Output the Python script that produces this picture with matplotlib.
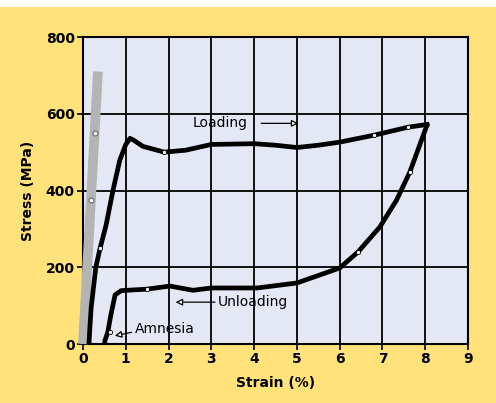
import matplotlib
matplotlib.use("Agg")
import matplotlib.pyplot as plt
from matplotlib.patches import Rectangle

# gray elastic line
elastic_strain = [0.0, 0.35]
elastic_stress = [0, 710]
elastic_mk_strain = [0.19, 0.28]
elastic_mk_stress = [375, 550]

# loading branch
load_strain = [0.14, 0.16, 0.19, 0.30, 0.40, 0.54, 0.70, 0.86, 1.00, 1.10, 1.20,
               1.40, 1.90, 2.40, 3.00, 4.00, 4.50, 5.00, 5.50, 6.00, 6.80, 7.60, 8.04]
load_stress = [0, 42, 94, 200, 250, 310, 400, 479, 520, 536, 530,
               515, 500, 505, 520, 522, 518, 512, 518, 526, 544, 565, 572]
load_mk_strain = [0.40, 1.90, 6.80, 7.60]
load_mk_stress = [250, 500, 544, 565]

# unloading branch
unload_strain = [8.04, 7.64, 7.33, 6.94, 6.43, 6.00, 5.00, 4.07, 3.00, 2.57, 2.03,
                 1.50, 1.03, 0.89, 0.75, 0.65, 0.58, 0.51, 0.51]
unload_stress = [570, 448, 375, 305, 240, 198, 159, 146, 146, 140, 151,
                 143, 140, 139, 128, 75, 31, 8, 0]
unload_mk_strain = [7.64, 6.43, 1.50, 0.62]
unload_mk_stress = [448, 240, 143, 31]

x_ticks = list(range(0, 10))
y_ticks = [0, 200, 400, 600, 800]

YELLOW = "#FFE37A"
FACE = "#E4E8F4"

fig = plt.figure(figsize=(4.96, 4.03), dpi=100, facecolor=YELLOW)
fig.patches.append(Rectangle((0, 1 - 7 / 403), 1, 7 / 403, transform=fig.transFigure,
                             facecolor="white", edgecolor="none", zorder=0))
ax = fig.add_axes([83 / 496, 59 / 403, 385 / 496, 307 / 403])
ax.set_facecolor(FACE)

ax.plot(elastic_strain, elastic_stress, color="#B4B4B4", lw=7, solid_capstyle="butt",
        zorder=3, clip_on=False)
ax.plot(elastic_mk_strain, elastic_mk_stress, "o", ms=3.5, mfc="white", mec="#666666",
        mew=0.8, zorder=4)
ax.plot(load_strain, load_stress, color="black", lw=3.4, zorder=5)
ax.plot(unload_strain, unload_stress, color="black", lw=3.4, zorder=5)
ax.plot(load_mk_strain + unload_mk_strain, load_mk_stress + unload_mk_stress, "o", ms=3,
        mfc="white", mec="black", mew=0.6, zorder=6)

arrow = dict(arrowstyle="-|>,head_length=0.4,head_width=0.2", fc="white", ec="black", lw=0.9)
ax.annotate("", xy=(5.1, 575), xytext=(4.1, 575), arrowprops=arrow, zorder=7)
ax.text(2.57, 575, "Loading", fontsize=10, va="center", ha="left", zorder=7)
ax.annotate("", xy=(2.1, 109), xytext=(3.15, 109), arrowprops=arrow, zorder=7)
ax.text(3.15, 109, "Unloading", fontsize=10, va="center", ha="left", zorder=7)
ax.annotate("", xy=(0.68, 20), xytext=(1.2, 32), arrowprops=arrow, zorder=7)
ax.text(1.22, 38, "Amnesia", fontsize=10, va="center", ha="left", zorder=7)

ax.set_xlim(0, 9)
ax.set_ylim(0, 800)
ax.set_xticks(x_ticks)
ax.set_yticks(y_ticks)
ax.grid(True, color="black", lw=1.3, zorder=1)
ax.set_axisbelow(True)
for s in ax.spines.values():
    s.set_linewidth(1.5)
ax.tick_params(direction="out", length=4, width=1.2, labelsize=10, pad=2)
for lab in ax.get_xticklabels() + ax.get_yticklabels():
    lab.set_fontweight("bold")
ax.set_xlabel("Strain (%)", fontsize=10, fontweight="bold", labelpad=7)
ax.set_ylabel("Stress (MPa)", fontsize=10, fontweight="bold", labelpad=8)

fig.savefig("out.png", dpi=100, facecolor=YELLOW)
